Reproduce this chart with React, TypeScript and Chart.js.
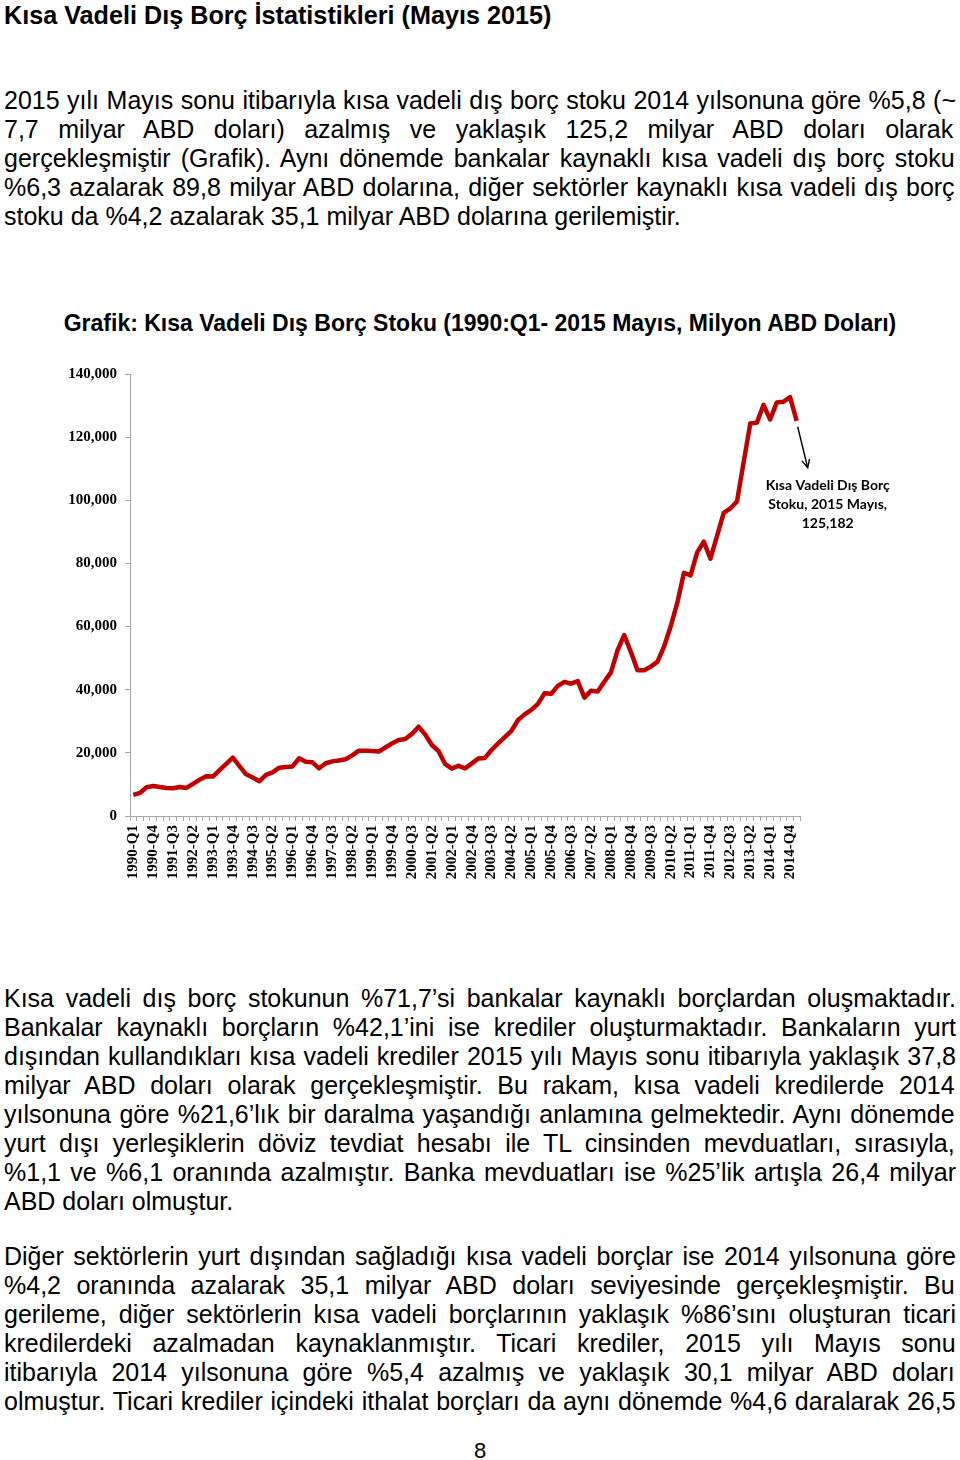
import React, { useEffect, useRef } from 'react';
import { Chart, registerables } from 'chart.js';

Chart.register(...registerables);

// ---------- DATA ----------
const years = [1990, 1991, 1992, 1993, 1994, 1995, 1996, 1997, 1998, 1999, 2000, 2001, 2002, 2003, 2004, 2005, 2006, 2007, 2008, 2009, 2010, 2011, 2012, 2013, 2014];
const quarters = ['Q1', 'Q2', 'Q3', 'Q4'];
const lastPeriod = '2015-Mayıs';
const categories: string[] = [];
for (const y of years) for (const q of quarters) categories.push(`${y}-${q}`);
categories.push(lastPeriod);

// Kısa vadeli dış borç stoku (milyon ABD doları)
const debtStock = [
  6700, 7300, 9100, 9500, 9200, 8900, 8800, 9200, 8900, 10200,
  11500, 12600, 12500, 14500, 16500, 18500, 15800, 13200, 12200, 11000,
  13000, 13800, 15300, 15500, 15700, 18300, 17200, 17000, 15100, 16700,
  17300, 17600, 18000, 19200, 20700, 20700, 20600, 20400, 21700, 23000,
  24100, 24400, 26000, 28300, 25800, 22500, 20600, 16500, 15000, 15900,
  15100, 16600, 18200, 18400, 20900, 23000, 25000, 27000, 30400, 32200,
  33600, 35500, 38900, 38700, 41200, 42500, 41900, 42700, 37500, 39700,
  39400, 42500, 45500, 52500, 57300, 52000, 46200, 46200, 47300, 48800,
  53600, 60000, 67500, 77000, 76200, 83500, 86900, 81500, 88700, 96000,
  97400, 99600, 112000, 124300, 124600, 130200, 125600, 131000, 131200, 132700,
  125182,
];

const yTickValues = [0, 20000, 40000, 60000, 80000, 100000, 120000, 140000];
const xLabelEvery = 3;
const chartTitle = 'Grafik: Kısa Vadeli Dış Borç Stoku (1990:Q1- 2015 Mayıs, Milyon ABD Doları)';
const calloutLines = ['Kısa Vadeli Dış Borç', 'Stoku, 2015 Mayıs,', '125,182'];

const pageTitle = 'Kısa Vadeli Dış Borç İstatistikleri (Mayıs 2015)';
const para1 = [
  '2015 yılı Mayıs sonu itibarıyla kısa vadeli dış borç stoku 2014 yılsonuna göre %5,8 (~',
  '7,7 milyar ABD doları) azalmış ve yaklaşık 125,2 milyar ABD doları olarak',
  'gerçekleşmiştir (Grafik). Aynı dönemde bankalar kaynaklı kısa vadeli dış borç stoku',
  '%6,3 azalarak 89,8 milyar ABD dolarına, diğer sektörler kaynaklı kısa vadeli dış borç',
  'stoku da %4,2 azalarak 35,1 milyar ABD dolarına gerilemiştir.',
];
const para2 = [
  'Kısa vadeli dış borç stokunun %71,7’si bankalar kaynaklı borçlardan oluşmaktadır.',
  'Bankalar kaynaklı borçların %42,1’ini ise krediler oluşturmaktadır. Bankaların yurt',
  'dışından kullandıkları kısa vadeli krediler 2015 yılı Mayıs sonu itibarıyla yaklaşık 37,8',
  'milyar ABD doları olarak gerçekleşmiştir. Bu rakam, kısa vadeli kredilerde 2014',
  'yılsonuna göre %21,6’lık bir daralma yaşandığı anlamına gelmektedir. Aynı dönemde',
  'yurt dışı yerleşiklerin döviz tevdiat hesabı ile TL cinsinden mevduatları, sırasıyla,',
  '%1,1 ve %6,1 oranında azalmıştır. Banka mevduatları ise %25’lik artışla 26,4 milyar',
  'ABD doları olmuştur.',
];
const para3 = [
  'Diğer sektörlerin yurt dışından sağladığı kısa vadeli borçlar ise 2014 yılsonuna göre',
  '%4,2 oranında azalarak 35,1 milyar ABD doları seviyesinde gerçekleşmiştir. Bu',
  'gerileme, diğer sektörlerin kısa vadeli borçlarının yaklaşık %86’sını oluşturan ticari',
  'kredilerdeki azalmadan kaynaklanmıştır. Ticari krediler, 2015 yılı Mayıs sonu',
  'itibarıyla 2014 yılsonuna göre %5,4 azalmış ve yaklaşık 30,1 milyar ABD doları',
  'olmuştur. Ticari krediler içindeki ithalat borçları da aynı dönemde %4,6 daralarak 26,5',
];
const pageNumber = '8';

// ---------- LAYOUT ----------
const SANS = '"Liberation Sans", Arial, sans-serif';
const SERIF = '"Liberation Serif", "Times New Roman", serif';
const TEXT_LEFT = 4;
const TEXT_WIDTH = 952;
const BODY_SIZE = 25;
const LINE_H = 29;

let measureCtx: CanvasRenderingContext2D | null = null;
function measure(text: string, font: string): number {
  if (!measureCtx) measureCtx = document.createElement('canvas').getContext('2d');
  if (!measureCtx) return 0;
  measureCtx.font = font;
  return measureCtx.measureText(text).width;
}

function TextLine({ text, top, justify }: { text: string; top: number; justify: boolean }) {
  let wordSpacing = 0;
  if (justify) {
    const w = measure(text, `${BODY_SIZE}px ${SANS}`);
    const spaces = (text.match(/ /g) || []).length;
    if (spaces > 0) wordSpacing = (TEXT_WIDTH - w) / spaces;
  }
  return (
    <div
      style={{
        position: 'absolute',
        left: TEXT_LEFT,
        top,
        whiteSpace: 'pre',
        fontFamily: SANS,
        fontSize: BODY_SIZE,
        lineHeight: `${LINE_H}px`,
        wordSpacing: `${wordSpacing}px`,
        color: '#000',
      }}
    >
      {text}
    </div>
  );
}

function Paragraph({ lines, top, lastJustified }: { lines: string[]; top: number; lastJustified?: boolean }) {
  return (
    <>
      {lines.map((l, i) => (
        <TextLine key={i} text={l} top={top + i * LINE_H} justify={i < lines.length - 1 || !!lastJustified} />
      ))}
    </>
  );
}

const calloutPlugin = {
  id: 'callout',
  afterDatasetsDraw(chart: any) {
    const meta = chart.getDatasetMeta(0);
    const pt = meta.data[meta.data.length - 1];
    if (!pt) return;
    const ctx: CanvasRenderingContext2D = chart.ctx;
    const x0 = pt.x + 1, y0 = pt.y + 6, x1 = pt.x + 11, y1 = pt.y + 47;
    ctx.save();
    ctx.strokeStyle = '#000';
    ctx.lineWidth = 1.4;
    ctx.beginPath();
    ctx.moveTo(x0, y0);
    ctx.lineTo(x1, y1);
    ctx.stroke();
    const ang = Math.atan2(y1 - y0, x1 - x0);
    const len = 9;
    ctx.beginPath();
    ctx.moveTo(x1 - len * Math.cos(ang - 0.45), y1 - len * Math.sin(ang - 0.45));
    ctx.lineTo(x1, y1);
    ctx.lineTo(x1 - len * Math.cos(ang + 0.45), y1 - len * Math.sin(ang + 0.45));
    ctx.stroke();
    ctx.font = 'bold 14px Lato, "Open Sans", sans-serif';
    ctx.fillStyle = '#000';
    ctx.textAlign = 'center';
    ctx.textBaseline = 'middle';
    calloutLines.forEach((l, i) => ctx.fillText(l, pt.x + 31, pt.y + 65 + i * 19));
    ctx.restore();
  },
};

const CANVAS_TOP = 340;
const CANVAS_H = 560;

function DebtChart() {
  const ref = useRef<HTMLCanvasElement>(null);
  useEffect(() => {
    if (!ref.current) return;
    const axisColor = '#A6A6A6';
    const chart = new Chart(ref.current, {
      type: 'line',
      data: {
        labels: categories,
        datasets: [
          {
            label: 'Kısa Vadeli Dış Borç Stoku',
            data: debtStock,
            borderColor: '#C00000',
            backgroundColor: '#C00000',
            borderWidth: 4.5,
            pointRadius: 0,
            tension: 0,
            borderJoinStyle: 'round',
            borderCapStyle: 'butt',
          },
        ],
      },
      options: {
        responsive: false,
        animation: false,
        devicePixelRatio: 1,
        layout: { padding: { left: 0, right: 160, top: 34, bottom: 0 } },
        plugins: {
          legend: { display: false },
          tooltip: { enabled: false },
          title: { display: false },
        },
        scales: {
          x: {
            type: 'category',
            offset: true,
            grid: { display: true, drawOnChartArea: false, drawTicks: true, tickLength: 5, color: axisColor, offset: true },
            border: { display: true, color: axisColor, width: 1 },
            ticks: {
              autoSkip: false,
              minRotation: 90,
              maxRotation: 90,
              padding: 4,
              color: '#000',
              font: { family: SERIF, size: 15, weight: 'bold' },
              callback: (_v: any, i: number) => (i % xLabelEvery === 0 && i < categories.length - 1 ? categories[i] : ''),
            },
            afterFit: (s: any) => { s.height = 84; },
          },
          y: {
            min: yTickValues[0],
            max: yTickValues[yTickValues.length - 1],
            afterBuildTicks: (s: any) => { s.ticks = yTickValues.map((v) => ({ value: v })); },
            grid: { display: true, drawOnChartArea: false, drawTicks: true, tickLength: 5, color: axisColor },
            border: { display: true, color: axisColor, width: 1 },
            ticks: {
              padding: 8,
              color: '#000',
              font: { family: SERIF, size: 15, weight: 'bold' },
              callback: (v: any) => Number(v).toLocaleString('en-US'),
            },
            afterFit: (s: any) => { s.width = 130; },
          },
        },
      },
      plugins: [calloutPlugin],
    });
    return () => chart.destroy();
  }, []);
  return (
    <canvas
      ref={ref}
      width={960}
      height={CANVAS_H}
      style={{ position: 'absolute', left: 0, top: CANVAS_TOP, width: 960, height: CANVAS_H }}
    />
  );
}

export default function App() {
  return (
    <div style={{ position: 'absolute', left: 0, top: 0, width: 960, height: 1460, background: '#fff', overflow: 'hidden' }}>
      <div
        style={{
          position: 'absolute',
          left: TEXT_LEFT,
          top: 1,
          whiteSpace: 'pre',
          fontFamily: SANS,
          fontWeight: 'bold',
          fontSize: 25.2,
          lineHeight: `${LINE_H}px`,
          color: '#000',
        }}
      >
        {pageTitle}
      </div>
      <Paragraph lines={para1} top={86} />
      <div
        style={{
          position: 'absolute',
          left: 0,
          width: 960,
          top: 309,
          textAlign: 'center',
          whiteSpace: 'pre',
          fontFamily: SANS,
          fontWeight: 'bold',
          fontSize: 23,
          lineHeight: '28px',
          color: '#000',
        }}
      >
        {chartTitle}
      </div>
      <DebtChart />
      <Paragraph lines={para2} top={984} />
      <Paragraph lines={para3} top={1242} lastJustified />
      <div
        style={{
          position: 'absolute',
          left: 0,
          width: 960,
          top: 1436,
          textAlign: 'center',
          fontFamily: SANS,
          fontSize: 22,
          lineHeight: `${LINE_H}px`,
          color: '#000',
        }}
      >
        {pageNumber}
      </div>
    </div>
  );
}
